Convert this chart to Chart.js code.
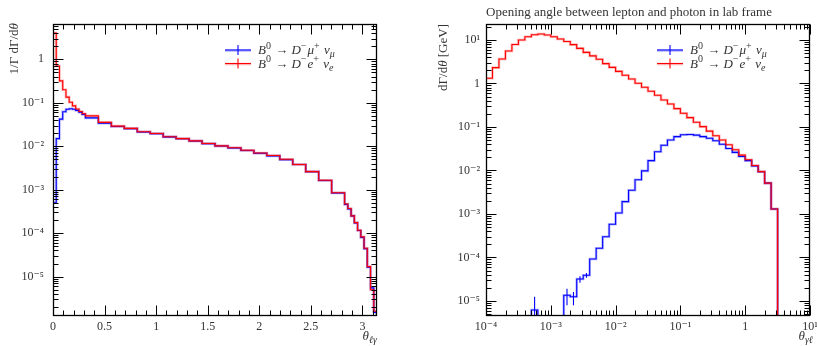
<!DOCTYPE html>
<html>
<head>
<meta charset="utf-8">
<script src="https://cdn.jsdelivr.net/npm/chart.js@4.4.0/dist/chart.umd.min.js"></script>
<style>
  body { margin: 0; background: #fff; width: 817px; height: 346px; overflow: hidden; position: relative; }
  #wrap-left { position: absolute; left: 0; top: 0; width: 408px; height: 346px; }
  #wrap-right { position: absolute; left: 408px; top: 0; width: 409px; height: 346px; }
</style>
</head>
<body>
<div id="wrap-left"><canvas id="chart-left"></canvas></div>
<div id="wrap-right"><canvas id="chart-right"></canvas></div>
<script>
// ---- left panel: 1/Gamma dGamma/dtheta vs theta(l,gamma), bin edges in units of pi
const leftEdgesPi = [0, 0.01, 0.02, 0.03, 0.04, 0.05, 0.06, 0.07, 0.08, 0.09, 0.10,
  0.14, 0.18, 0.22, 0.26, 0.30, 0.34, 0.38, 0.42, 0.46, 0.50, 0.54, 0.58, 0.62, 0.66,
  0.70, 0.74, 0.78, 0.82, 0.86, 0.90,
  0.91, 0.92, 0.93, 0.94, 0.95, 0.96, 0.97, 0.98, 0.99, 1.00];
const leftMuon = [5e-4, 0.015, 0.042, 0.062, 0.071, 0.073, 0.071, 0.067, 0.061, 0.054,
  0.045, 0.034, 0.0285, 0.0254, 0.0213, 0.0195, 0.0164, 0.0149, 0.0132, 0.0115,
  0.0101, 0.0091, 0.0080, 0.0069, 0.0060, 0.0049, 0.0038, 0.0026, 0.00163, 0.00084,
  4.6e-4, 3.6e-4, 2.5e-4, 1.72e-4, 1.15e-4, 8.0e-5, 4.4e-5, 1.65e-5, 5.5e-6, 1.5e-6];
const leftElec = [4.0, 0.7, 0.32, 0.2, 0.135, 0.103, 0.085, 0.072, 0.063, 0.056,
  0.050, 0.0355, 0.029, 0.0257, 0.0215, 0.0197, 0.0165, 0.015, 0.0133, 0.0116,
  0.0102, 0.0092, 0.0081, 0.0070, 0.0061, 0.0050, 0.0038, 0.0026, 0.00165, 0.00085,
  4.7e-4, 3.7e-4, 2.5e-4, 1.75e-4, 1.17e-4, 8.2e-5, 4.5e-5, 1.7e-5, 5e-6, 1.6e-6];
const leftXTicks = [0, 0.5, 1, 1.5, 2, 2.5, 3];
const leftYTicks = [1e-5, 1e-4, 1e-3, 1e-2, 1e-1, 1];

// ---- right panel: dGamma/dtheta vs theta(gamma,l), log10 of bin edges
const rightEdgesExp = [-4.0, -3.9, -3.8, -3.7, -3.6, -3.5, -3.4, -3.3, -3.2, -3.1,
  -3.0, -2.9, -2.8, -2.7, -2.6, -2.5, -2.4, -2.3, -2.2, -2.1,
  -2.0, -1.9, -1.8, -1.7, -1.6, -1.5, -1.4, -1.3, -1.2, -1.1,
  -1.0, -0.9, -0.8, -0.7, -0.6, -0.5, -0.4, -0.3, -0.2, -0.1,
  0.0, 0.1, 0.2, 0.3, 0.4, 0.5];
const rightMuon = [0, 0, 0, 0, 0, 0, 0, 6.2e-6, 0, 0, 0, 0,
  1.35e-5, 1.25e-5, 3.2e-5, 3.9e-5, 9.2e-5, 1.62e-4, 3.0e-4, 5.8e-4,
  1.05e-3, 1.92e-3, 3.5e-3, 6.1e-3, 0.0098, 0.0168, 0.027, 0.038, 0.050, 0.060,
  0.066, 0.067, 0.065, 0.060, 0.055, 0.048, 0.040, 0.032, 0.026, 0.021,
  0.0168, 0.0127, 0.0093, 0.0051, 0.0013];
const rightElec = [1.32, 2.31, 3.66, 5.58, 7.9, 10.0, 11.9, 13.2, 13.7, 13.0,
  11.9, 10.5, 9.2, 7.8, 6.4, 5.2, 4.3, 3.6, 2.86, 2.35,
  1.9, 1.54, 1.27, 1.01, 0.82, 0.66, 0.535, 0.418, 0.338, 0.264,
  0.207, 0.164, 0.128, 0.102, 0.080, 0.063, 0.050, 0.039, 0.030, 0.0225,
  0.0176, 0.013, 0.0094, 0.0051, 0.0013];
// error bars visible on the sparse muon bins
const rightMuonErrBins = [7, 12, 13, 14, 15];
const rightMuonErrLo = [1e-7, 8e-6, 8e-6, 2.6e-5, 3.4e-5];
const rightMuonErrHi = [1.25e-5, 1.9e-5, 1.6e-5, 3.7e-5, 4.4e-5];
const rightXTicks = [1e-4, 1e-3, 1e-2, 1e-1, 1, 10];
const rightYTicks = [1e-5, 1e-4, 1e-3, 1e-2, 1e-1, 1, 10];

const FONT = '"Liberation Serif", "DejaVu Serif", serif';
const RED = '#ff0000';
const BLUE = '#0000ff';
const TEXT = '#333';
const FLOOR = 1e-12;   // empty bins go below the axis

const muonLabel = [['B', 'i'], ['0', '^'], [' \u2192 ', ''], ['D', 'i'], ['\u2212', '^'], ['\u03bc', 'i'], ['+', '^'], [' \u03bd', 'i'], ['\u03bc', '_i']];
const elecLabel = [['B', 'i'], ['0', '^'], [' \u2192 ', ''], ['D', 'i'], ['\u2212', '^'], ['e', 'i'], ['+', '^'], [' \u03bd', 'i'], ['e', '_i']];

const SUP = { '-': '\u207b', '0': '\u2070', '1': '\u00b9', '2': '\u00b2', '3': '\u00b3', '4': '\u2074', '5': '\u2075', '6': '\u2076', '7': '\u2077', '8': '\u2078', '9': '\u2079' };
function decadeLabel(v) {
    const e = Math.round(Math.log10(v));
    if (e === 0) return '1';
    return '10' + String(e).split('').map(c => SUP[c]).join('');
}

// one point per bin at its lower edge, plus a closing point at the last upper edge
function histPoints(edges, vals) {
    const pts = vals.map((v, i) => ({ x: edges[i], y: v > 0 ? v : FLOOR }));
    pts.push({ x: edges[edges.length - 1], y: FLOOR });
    return pts;
}

function fontFor(flags, size) {
    const small = flags.includes('^') || flags.includes('_');
    const sz = small ? Math.round(size * 0.75) : size;
    return (flags.includes('i') ? 'italic ' : '') + sz + 'px ' + FONT;
}

function drawRich(ctx, parts, x, y, size, align) {
    let w = 0;
    parts.forEach(p => { ctx.font = fontFor(p[1], size); w += ctx.measureText(p[0]).width + (p[1].includes('^') ? 1 : 0); });
    let cx = align === 'right' ? x - w : x;
    ctx.textAlign = 'left';
    parts.forEach(p => {
        ctx.font = fontFor(p[1], size);
        let dy = 0;
        if (p[1].includes('^')) dy = -0.4 * size;
        if (p[1].includes('_')) dy = 0.25 * size;
        ctx.fillText(p[0], cx, y + dy);
        cx += ctx.measureText(p[0]).width + (p[1].includes('^') ? 1 : 0);
    });
}

function minorLog(min, max) {
    const out = [];
    for (let e = Math.floor(Math.log10(min)); e <= Math.ceil(Math.log10(max)); e++) {
        for (let m = 2; m <= 9; m++) {
            const v = m * Math.pow(10, e);
            if (v > min && v < max) out.push(v);
        }
    }
    return out;
}

// frame with inward ticks on all four sides
function drawFrame(chart, xMajor, xMinor, yMajor, yMinor) {
    const { ctx, chartArea: a, scales: { x, y } } = chart;
    const L = Math.round(a.left) + 0.5, R = Math.round(a.right) - 0.5;
    const T = Math.round(a.top) + 0.5, B = Math.round(a.bottom) - 0.5;
    ctx.save();
    ctx.strokeStyle = '#000';
    ctx.lineWidth = 1;
    ctx.beginPath();
    const xt = (v, len) => {
        const p = Math.round(x.getPixelForValue(v)) + 0.5;
        if (p < L - 1 || p > R + 1) return;
        ctx.moveTo(p, B); ctx.lineTo(p, B - len);
        ctx.moveTo(p, T); ctx.lineTo(p, T + len);
    };
    const yt = (v, len) => {
        const p = Math.round(y.getPixelForValue(v)) + 0.5;
        if (p < T - 1 || p > B + 1) return;
        ctx.moveTo(L, p); ctx.lineTo(L + len, p);
        ctx.moveTo(R, p); ctx.lineTo(R - len, p);
    };
    xMajor.forEach(v => xt(v, 10));
    xMinor.forEach(v => xt(v, 5));
    yMajor.forEach(v => yt(v, 10));
    yMinor.forEach(v => yt(v, 5));
    ctx.stroke();
    ctx.lineWidth = 1.3;
    ctx.strokeRect(L, T, R - L, B - T);
    ctx.restore();
}

function drawLegend(ctx, x0, y0) {
    const rows = [[BLUE, muonLabel], [RED, elecLabel]];
    rows.forEach((r, i) => {
        const yy = y0 + i * 13.5;
        ctx.save();
        ctx.strokeStyle = r[0];
        ctx.globalAlpha = 0.3;
        ctx.lineWidth = 2.5;
        ctx.beginPath(); ctx.moveTo(x0, yy + 0.5); ctx.lineTo(x0 + 26, yy + 0.5); ctx.stroke();
        ctx.globalAlpha = 1;
        ctx.lineWidth = 1.1;
        ctx.beginPath();
        ctx.moveTo(x0, yy); ctx.lineTo(x0 + 26, yy);
        ctx.moveTo(x0 + 13, yy - 5); ctx.lineTo(x0 + 13, yy + 5);
        ctx.stroke();
        ctx.fillStyle = TEXT;
        ctx.textBaseline = 'alphabetic';
        drawRich(ctx, r[1], x0 + 33, yy + 4, 13, 'left');
        ctx.restore();
    });
}

function makeDatasets(edges, muon, elec) {
    // 'before': hold the previous point's value until the next edge, then step
    const base = { stepped: 'before', pointRadius: 0, fill: false, tension: 0 };
    return [
        { ...base, label: 'B0 -> D- e+ nu_e', data: histPoints(edges, elec), borderColor: RED, borderWidth: 1.1 },
        { ...base, label: 'B0 -> D- mu+ nu_mu', data: histPoints(edges, muon), borderColor: BLUE, borderWidth: 1.1 },
        { ...base, label: 'band e', data: histPoints(edges, elec), borderColor: 'rgba(255,0,0,0.28)', borderWidth: 2.6 },
        { ...base, label: 'band mu', data: histPoints(edges, muon), borderColor: 'rgba(0,0,255,0.28)', borderWidth: 2.6 }
    ];
}

const tickFont = { family: FONT, size: 12 };

// ================= left chart =================
const leftEdges = leftEdgesPi.map(v => v * Math.PI);
const leftYMin = 1.24e-6, leftYMax = 6.5;
const leftXMinor = [];
for (let i = 1; i <= 31; i++) if (i % 5 !== 0) leftXMinor.push(i / 10);

new Chart(document.querySelector('#chart-left'), {
    type: 'line',
    data: { datasets: makeDatasets(leftEdges, leftMuon, leftElec) },
    options: {
        animation: false,
        responsive: true,
        maintainAspectRatio: false,
        layout: { padding: { left: 0, right: 31, top: 24, bottom: 0 } },
        plugins: { legend: { display: false }, tooltip: { enabled: false } },
        scales: {
            x: {
                type: 'linear', min: 0, max: Math.PI,
                grid: { display: false, drawTicks: false }, border: { display: false },
                afterBuildTicks: s => { s.ticks = leftXTicks.map(v => ({ value: v })); },
                afterFit: s => { s.height = 30; s.paddingLeft = 0; s.paddingRight = 0; },
                ticks: { font: tickFont, color: TEXT, padding: 4, maxRotation: 0, autoSkip: false, callback: v => String(v) }
            },
            y: {
                type: 'logarithmic', min: leftYMin, max: leftYMax,
                grid: { display: false, drawTicks: false }, border: { display: false },
                afterBuildTicks: s => { s.ticks = leftYTicks.map(v => ({ value: v })); },
                afterFit: s => { s.width = 53; s.paddingTop = 0; s.paddingBottom = 0; },
                ticks: { font: tickFont, color: TEXT, padding: 9, autoSkip: false, callback: v => decadeLabel(v) }
            }
        }
    },
    plugins: [{
        id: 'leftDecor',
        afterDraw(chart) {
            drawFrame(chart, leftXTicks, leftXMinor, leftYTicks, minorLog(leftYMin, leftYMax));
            const ctx = chart.ctx;
            ctx.save();
            ctx.fillStyle = TEXT;
            ctx.textBaseline = 'alphabetic';
            ctx.translate(18, chart.chartArea.top - 1);
            ctx.rotate(-Math.PI / 2);
            drawRich(ctx, [['1/\u0393 d\u0393/d', ''], ['\u03b8', 'i']], 0, 0, 13, 'right');
            ctx.restore();
            ctx.save();
            ctx.fillStyle = TEXT;
            drawRich(ctx, [['\u03b8', 'i'], ['\u2113\u03b3', '_i']], chart.chartArea.right, 340, 13, 'right');
            ctx.restore();
            drawLegend(ctx, 225, 50);
        }
    }]
});

// ================= right chart =================
const rightEdges = rightEdgesExp.map(e => Math.pow(10, e));
const rightYMin = 4.5e-6, rightYMax = 23.3;

new Chart(document.querySelector('#chart-right'), {
    type: 'line',
    data: { datasets: makeDatasets(rightEdges, rightMuon, rightElec) },
    options: {
        animation: false,
        responsive: true,
        maintainAspectRatio: false,
        layout: { padding: { left: 0, right: 7, top: 24, bottom: 0 } },
        plugins: { legend: { display: false }, tooltip: { enabled: false } },
        scales: {
            x: {
                type: 'logarithmic', min: 1e-4, max: 10,
                grid: { display: false, drawTicks: false }, border: { display: false },
                afterBuildTicks: s => { s.ticks = rightXTicks.map(v => ({ value: v })); },
                afterFit: s => { s.height = 30; s.paddingLeft = 0; s.paddingRight = 0; },
                ticks: { font: tickFont, color: TEXT, padding: 4, maxRotation: 0, autoSkip: false, callback: v => decadeLabel(v) }
            },
            y: {
                type: 'logarithmic', min: rightYMin, max: rightYMax,
                grid: { display: false, drawTicks: false }, border: { display: false },
                afterBuildTicks: s => { s.ticks = rightYTicks.map(v => ({ value: v })); },
                afterFit: s => { s.width = 78; s.paddingTop = 0; s.paddingBottom = 0; },
                ticks: { font: tickFont, color: TEXT, padding: 6, autoSkip: false, callback: v => decadeLabel(v) }
            }
        }
    },
    plugins: [{
        id: 'rightDecor',
        afterDatasetsDraw(chart) {
            const { ctx, chartArea: a, scales: { x, y } } = chart;
            ctx.save();
            ctx.beginPath();
            ctx.rect(a.left, a.top, a.right - a.left, a.bottom - a.top);
            ctx.clip();
            ctx.strokeStyle = BLUE;
            ctx.lineWidth = 1.1;
            ctx.beginPath();
            rightMuonErrBins.forEach((b, i) => {
                const xc = x.getPixelForValue(Math.pow(10, (rightEdgesExp[b] + rightEdgesExp[b + 1]) / 2));
                ctx.moveTo(xc, y.getPixelForValue(rightMuonErrLo[i]));
                ctx.lineTo(xc, y.getPixelForValue(rightMuonErrHi[i]));
            });
            ctx.stroke();
            ctx.restore();
        },
        afterDraw(chart) {
            drawFrame(chart, rightXTicks, minorLog(1e-4, 10), rightYTicks, minorLog(rightYMin, rightYMax));
            const ctx = chart.ctx;
            ctx.save();
            ctx.fillStyle = TEXT;
            ctx.textBaseline = 'alphabetic';
            ctx.font = '13px ' + FONT;
            ctx.textAlign = 'left';
            ctx.fillText('Opening angle between lepton and photon in lab frame', chart.chartArea.left, 16);
            ctx.restore();
            ctx.save();
            ctx.fillStyle = TEXT;
            ctx.translate(39, chart.chartArea.top);
            ctx.rotate(-Math.PI / 2);
            drawRich(ctx, [['d\u0393/d', ''], ['\u03b8', 'i'], [' [GeV]', '']], 0, 0, 13, 'right');
            ctx.restore();
            ctx.save();
            ctx.fillStyle = TEXT;
            drawRich(ctx, [['\u03b8', 'i'], ['\u03b3\u2113', '_i']], chart.chartArea.right + 3, 340, 13, 'right');
            ctx.restore();
            drawLegend(ctx, 249, 50);
        }
    }]
});
</script>
</body>
</html>
